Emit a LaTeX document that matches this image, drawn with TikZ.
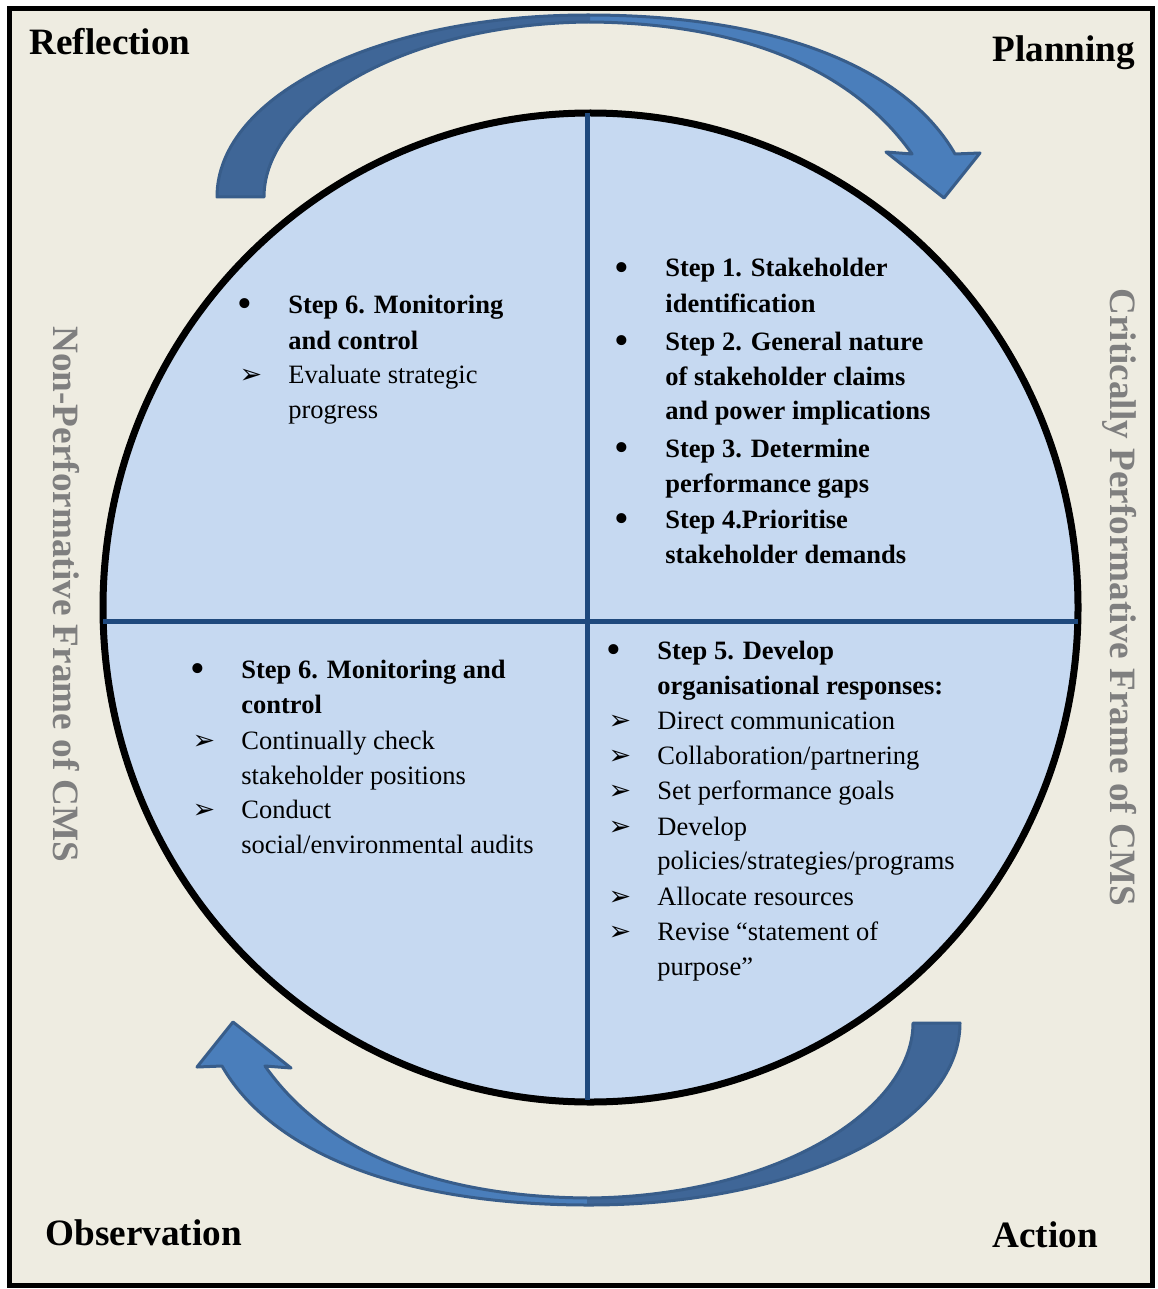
\documentclass[tikz,border=0pt]{standalone}
\usepackage{fontspec}
\setmainfont{Liberation Serif}
\newfontfamily\djv{DejaVu Sans}
\definecolor{bg}{HTML}{EEECE1}
\definecolor{circfill}{HTML}{C6D9F1}
\definecolor{divider}{HTML}{1F497D}
\definecolor{arrowdark}{HTML}{3F6697}
\definecolor{arrowlight}{HTML}{4A7EBB}
\definecolor{arrowedge}{HTML}{385D8A}
\definecolor{sidegray}{HTML}{7F7F7F}
\begin{document}
\begin{tikzpicture}[x=0.5pt,y=-0.5pt,
  txt/.style={inner sep=0pt, anchor=base west, font=\fontsize{13.25}{16}\selectfont},
  btxt/.style={inner sep=0pt, anchor=base west, font=\fontsize{13.25}{16}\selectfont\bfseries},
  corner/.style={inner sep=0pt, anchor=base west, font=\fontsize{18.6}{22}\selectfont\bfseries},
  side/.style={corner, text=sidegray, rotate=-90},
  bul/.style={inner sep=0pt, anchor=base, font=\fontsize{21}{24}\selectfont, yshift=-2pt},
  arr/.style={inner sep=0pt, anchor=base, font=\djv\fontsize{13.5}{16}\selectfont},
  bigarrow/.style={draw=arrowedge, line width=1.5pt, line join=round},
  dividerline/.style={draw=divider, line width=2.5pt},
  arrowpath/.style={insert path={(217,197) .. controls (217,95) and (380,15) .. (588,15)
     .. controls (790,15) and (910,75) .. (955,154) -- (980,153) -- (944,198) -- (886,152) -- (912,154)
     .. controls (860,80) and (760,23) .. (588,22)
     .. controls (400,24) and (264,110) .. (264,197) -- cycle}}
]
\useasboundingbox (0,0) rectangle (1157,1289);
\fill[white] (0,0) rectangle (1157,1289);
% frame
\draw[line width=2.5pt, fill=bg] (9.5,8.5) rectangle (1152.5,1285);

% circle
\fill[circfill] (590.5,607.5) ellipse [x radius=487.5, y radius=494.5];
\draw[line width=3.5pt] (590.5,607.5) ellipse [x radius=487.5, y radius=494.5];
\draw[dividerline] (103,621) -- (1078,621);
\draw[dividerline] (587,113) -- (587,1100);

% top arrow
\begin{scope}
  \fill[arrowlight, arrowpath];
  \begin{scope}
    \clip (0,0) rectangle (590,300);
    \fill[arrowdark, arrowpath];
  \end{scope}
  \path[bigarrow, arrowpath];
\end{scope}
% bottom arrow
\begin{scope}[rotate around={180:(588.5,610)}]
  \fill[arrowlight, arrowpath];
  \begin{scope}
    \clip (0,0) rectangle (590,300);
    \fill[arrowdark, arrowpath];
  \end{scope}
  \path[bigarrow, arrowpath];
\end{scope}

% corner labels
\node[corner] (refl) at (29,55) {Reflection};
\node[corner] (plan) at (992,62) {Planning};
\node[corner] (obs) at (45,1245) {Observation};
\node[corner] (act) at (992,1247) {Action};

% side labels
\node[side] (nonperf) at (53,326) {Non-Performative Frame of CMS};
\node[side] (critperf) at (1110,288) {Critically Performative Frame of CMS};

% top-right quadrant
\node[bul] (b1) at (622,277) {•};
\node[bul] (b2) at (622,350) {•};
\node[bul] (b3) at (622,457) {•};
\node[bul] (b4) at (622,528) {•};
\node[btxt] (s1a) at (665,277) {Step 1. Stakeholder};
\node[btxt] (s1b) at (665,312) {identification};
\node[btxt] (s2a) at (665,350) {Step 2. General nature};
\node[btxt] (s2b) at (665,385) {of stakeholder claims};
\node[btxt] (s2c) at (665,419) {and power implications};
\node[btxt] (s3a) at (665,457) {Step 3. Determine};
\node[btxt] (s3b) at (665,492) {performance gaps};
\node[btxt] (s4a) at (665,528) {Step 4.Prioritise};
\node[btxt] (s4b) at (665,563) {stakeholder demands};

% top-left quadrant
\node[bul] (b5) at (245,313) {•};
\node[arr] (a1) at (251,383) {➢};
\node[btxt] (t6a) at (288,313) {Step 6. Monitoring};
\node[btxt] (t6b) at (288,349) {and control};
\node[txt] (t6c) at (288,383) {Evaluate strategic};
\node[txt] (t6d) at (288,418) {progress};

% bottom-left quadrant
\node[bul] (b6) at (198,678) {•};
\node[arr] (a2) at (204,749) {➢};
\node[arr] (a3) at (204,818) {➢};
\node[btxt] (l6a) at (241,678) {Step 6. Monitoring and};
\node[btxt] (l6b) at (241,713) {control};
\node[txt] (l6c) at (241,749) {Continually check};
\node[txt] (l6d) at (241,784) {stakeholder positions};
\node[txt] (l6e) at (241,818) {Conduct};
\node[txt] (l6f) at (241,853) {social/environmental audits};

% bottom-right quadrant
\node[bul] (b7) at (614,659) {•};
\node[arr] (a4) at (620,729) {➢};
\node[arr] (a5) at (620,764) {➢};
\node[arr] (a6) at (620,799) {➢};
\node[arr] (a7) at (620,835) {➢};
\node[arr] (a8) at (620,905) {➢};
\node[arr] (a9) at (620,940) {➢};
\node[btxt] (r5a) at (657,659) {Step 5. Develop};
\node[btxt] (r5b) at (657,694) {organisational responses:};
\node[txt] (r5c) at (657,729) {Direct communication};
\node[txt] (r5d) at (657,764) {Collaboration/partnering};
\node[txt] (r5e) at (657,799) {Set performance goals};
\node[txt] (r5f) at (657,835) {Develop};
\node[txt] (r5g) at (657,869) {policies/strategies/programs};
\node[txt] (r5h) at (657,905) {Allocate resources};
\node[txt] (r5i) at (657,940) {Revise “statement of};
\node[txt] (r5j) at (657,975) {purpose”};
\end{tikzpicture}
\end{document}
